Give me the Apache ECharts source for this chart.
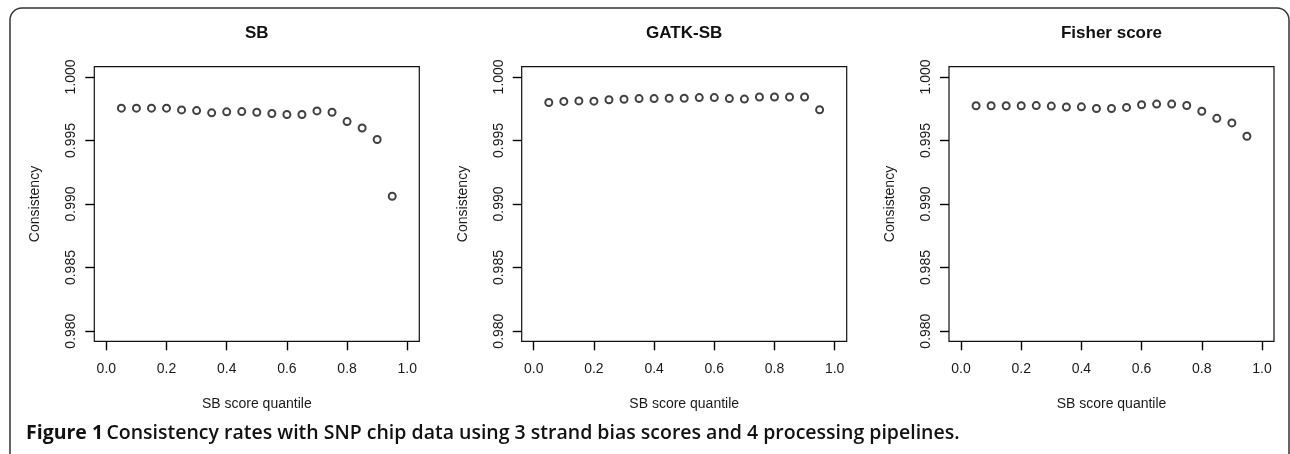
<!DOCTYPE html>
<html>
<head>
<meta charset="utf-8">
<script src="https://cdn.jsdelivr.net/npm/echarts@6/dist/echarts.min.js"></script>
<style>
html,body{margin:0;padding:0;background:#fff;}
#chart{width:1290px;height:454px;}
</style>
</head>
<body>
<div id="chart"></div>
<script>
const quantiles = [0.05,0.10,0.15,0.20,0.25,0.30,0.35,0.40,0.45,0.50,0.55,0.60,0.65,0.70,0.75,0.80,0.85,0.90,0.95];
const sbValues = [0.99754,0.99754,0.99754,0.99754,0.99740,0.99735,0.99717,0.99725,0.99727,0.99722,0.99712,0.99704,0.99704,0.99732,0.99722,0.99648,0.99598,0.99507,0.99061];
const gatkValues = [0.99798,0.99807,0.99811,0.99809,0.99820,0.99824,0.99829,0.99829,0.99832,0.99832,0.99837,0.99837,0.99829,0.99825,0.99842,0.99842,0.99842,0.99842,0.99741];
const fisherValues = [0.99773,0.99773,0.99773,0.99773,0.99774,0.99770,0.99763,0.99764,0.99751,0.99751,0.99760,0.99781,0.99786,0.99786,0.99775,0.99730,0.99674,0.99638,0.99533];
const xTicks = [0.0,0.2,0.4,0.6,0.8,1.0];
const yTicks = [0.980,0.985,0.990,0.995,1.000];
const panelTitles = ['SB','GATK-SB','Fisher score'];
const xAxisName = 'SB score quantile';
const yAxisName = 'Consistency';
const captionBold = 'Figure 1';
const captionText = 'Consistency rates with SNP chip data using 3 strand bias scores and 4 processing pipelines.';

const panelValues = [sbValues, gatkValues, fisherValues];
const gridLefts = [94.3, 521.7, 949];
const gridWidth = 325;
const gridTop = 66.7;
const gridHeight = 274.6;
const FONT = '"Liberation Sans", Arial, Helvetica, sans-serif';

const grids = [], xAxes = [], yAxes = [], series = [], graphics = [];
panelValues.forEach((vals, i) => {
  grids.push({left: gridLefts[i], top: gridTop, width: gridWidth, height: gridHeight,
    show: true, borderColor: '#111', borderWidth: 1.2, backgroundColor: 'transparent', containLabel: false});
  xAxes.push({type: 'value', gridIndex: i, min: -0.04, max: 1.04, position: 'bottom',
    axisLine: {show: false, onZero: false}, splitLine: {show: false},
    axisTick: {show: true, customValues: xTicks, length: 9, inside: false, lineStyle: {color: '#000', width: 1.4}},
    axisLabel: {customValues: xTicks, formatter: v => Number(v).toFixed(1), margin: 21, fontSize: 14, color: '#1a1a1a', fontFamily: FONT},
    name: xAxisName, nameLocation: 'middle', nameGap: 56,
    nameTextStyle: {fontSize: 14, color: '#1a1a1a', fontFamily: FONT}});
  yAxes.push({type: 'value', gridIndex: i, min: 0.9792, max: 1.0008, position: 'left',
    axisLine: {show: false, onZero: false}, splitLine: {show: false},
    axisTick: {show: true, customValues: yTicks, length: 9, inside: false, lineStyle: {color: '#000', width: 1.4}},
    axisLabel: {customValues: yTicks, formatter: v => Number(v).toFixed(3), rotate: 90, margin: 16, fontSize: 14, color: '#1a1a1a', fontFamily: FONT},
    name: yAxisName, nameLocation: 'middle', nameGap: 52, nameRotate: 90,
    nameTextStyle: {fontSize: 14, color: '#1a1a1a', fontFamily: FONT}});
  series.push({type: 'scatter', xAxisIndex: i, yAxisIndex: i,
    data: quantiles.map((q, k) => [q, vals[k]]),
    symbol: 'emptyCircle', symbolSize: 7,
    itemStyle: {color: '#111', borderColor: '#111', borderWidth: 1.4},
    emphasis: {disabled: true}, animation: false});
  graphics.push({type: 'text', x: gridLefts[i] + gridWidth / 2, y: 33,
    style: {text: panelTitles[i], font: 'bold 17px ' + FONT, fill: '#111', textAlign: 'center', textVerticalAlign: 'middle'}});
});

graphics.push({type: 'rect', shape: {x: 10, y: 8, width: 1279, height: 470, r: 12},
  style: {fill: 'none', stroke: '#333', lineWidth: 1.5}});
graphics.push({type: 'text', x: 26, y: 433,
  style: {text: '{a|' + captionBold + '} {b|' + captionText + '}', textVerticalAlign: 'middle',
    rich: {
      a: {fontFamily: '"Open Sans", "Noto Sans", sans-serif', fontWeight: 'bold', fontSize: 19.5, fill: '#111'},
      b: {fontFamily: '"Open Sans", "Noto Sans", sans-serif', fontWeight: 600, fontSize: 19.5, fill: '#111'}
    }}});

const chart = echarts.init(document.getElementById('chart'), null, {renderer: 'canvas'});
chart.setOption({animation: false, grid: grids, xAxis: xAxes, yAxis: yAxes, series: series, graphic: graphics});
</script>
</body>
</html>
